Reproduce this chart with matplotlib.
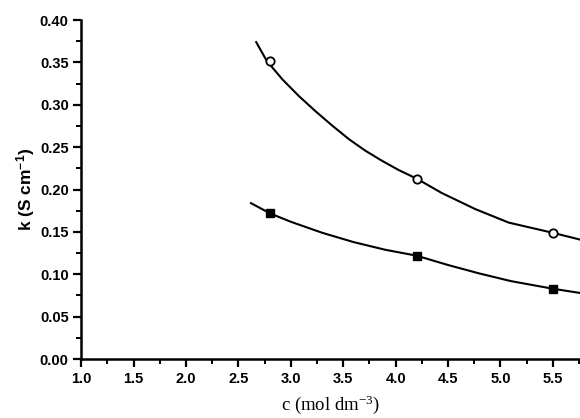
import matplotlib
matplotlib.use("Agg")
from matplotlib import pyplot as plt
from matplotlib.ticker import MultipleLocator

plt.rcParams['mathtext.default'] = 'regular'

# measured points
c_pts = [2.8, 4.2, 5.5]
k_open = [0.352, 0.213, 0.149]
k_filled = [0.172, 0.122, 0.083]

# fitted curves
c_fit = [2.67, 2.77, 2.92, 3.08, 3.24, 3.40, 3.56, 3.71, 3.87, 4.03, 4.2,
         4.44, 4.76, 5.08, 5.5, 5.76]
k_fit_open = [0.374, 0.352, 0.330, 0.310, 0.292, 0.275, 0.259, 0.246, 0.234,
              0.223, 0.213, 0.196, 0.177, 0.161, 0.149, 0.141]
c_fit2 = [2.62, 2.8, 3.0, 3.3, 3.6, 3.9, 4.2, 4.5, 4.8, 5.1, 5.5, 5.76]
k_fit_filled = [0.184, 0.172, 0.162, 0.149, 0.138, 0.129, 0.122, 0.111,
                0.101, 0.092, 0.083, 0.078]

fig = plt.figure(figsize=(5.8, 4.18), dpi=100)
ax = fig.add_axes([0.14, 0.141, 0.86, 0.811])

ax.plot(c_fit, k_fit_open, color='black', lw=1.5, zorder=2)
ax.plot(c_fit2, k_fit_filled, color='black', lw=1.5, zorder=2)
ax.plot(c_pts, k_open, 'o', ms=6, mfc='white', mec='black', mew=1.3, zorder=3)
ax.plot(c_pts, k_filled, 's', ms=6, color='black', zorder=3)

ax.set_xlim(1.0, 5.76)
ax.set_ylim(0.0, 0.40)
ax.xaxis.set_major_locator(MultipleLocator(0.5))
ax.xaxis.set_minor_locator(MultipleLocator(0.25))
ax.yaxis.set_major_locator(MultipleLocator(0.05))
ax.yaxis.set_minor_locator(MultipleLocator(0.025))
ax.xaxis.set_major_formatter(plt.FormatStrFormatter('%.1f'))
ax.yaxis.set_major_formatter(plt.FormatStrFormatter('%.2f'))

ax.spines['top'].set_visible(False)
ax.spines['right'].set_visible(False)
ax.spines['left'].set_linewidth(1.8)
ax.spines['bottom'].set_linewidth(1.8)
ax.tick_params(axis='both', which='major', direction='out', length=6, width=1.6,
               labelsize=10.5, pad=3)
ax.tick_params(axis='both', which='minor', direction='out', length=3.5, width=1.4)
for lab in ax.get_xticklabels() + ax.get_yticklabels():
    lab.set_fontweight('bold')
    lab.set_family('Liberation Sans')

ax.set_ylabel(r'k (S cm$^{-1}$)', fontsize=12.5, fontweight='bold',
              family='Liberation Sans', labelpad=2)
ax.set_xlabel(r'c (mol dm$^{-3}$)', fontsize=13.5, family='Liberation Serif',
              labelpad=6)

fig.savefig('out.png', dpi=100)
